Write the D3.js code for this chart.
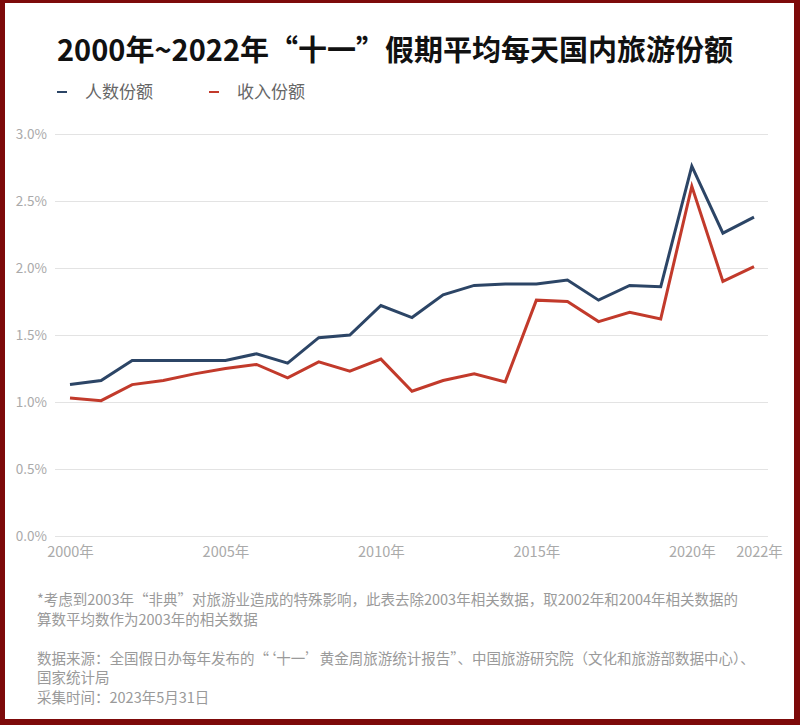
<!DOCTYPE html>
<html>
<head>
<meta charset="utf-8">
<script src="https://cdn.jsdelivr.net/npm/d3@7"></script>
<style>
  body { margin: 0; background: #fff; }
  svg { display: block; }
</style>
</head>
<body>
<div id="chart"></div>
<script>
const years = [2000, 2001, 2002, 2003, 2004, 2005, 2006, 2007, 2008, 2009, 2010,
    2011, 2012, 2013, 2014, 2015, 2016, 2017, 2018, 2019, 2020, 2021, 2022]

// 人数份额 (%)
const visitorShare = [1.13, 1.16, 1.31, 1.31, 1.31, 1.31, 1.36, 1.29, 1.48, 1.50, 1.72,
    1.63, 1.80, 1.87, 1.88, 1.88, 1.91, 1.76, 1.87, 1.86, 2.76, 2.26, 2.38]

// 收入份额 (%)
const revenueShare = [1.03, 1.01, 1.13, 1.16, 1.21, 1.25, 1.28, 1.18, 1.30, 1.23, 1.32,
    1.08, 1.16, 1.21, 1.15, 1.76, 1.75, 1.60, 1.67, 1.62, 2.61, 1.90, 2.01]

const xTicks = [2000, 2005, 2010, 2015, 2020, 2022]
const yTicks = [0, 0.5, 1.0, 1.5, 2.0, 2.5, 3.0]

const seriesNames = ["人数份额", "收入份额"]
const colors = ["#2c4566", "#c23a2b"]

const titleText = "2000年~2022年“十一”假期平均每天国内旅游份额"
const notes = [
    "*考虑到2003年“非典”对旅游业造成的特殊影响，此表去除2003年相关数据，取2002年和2004年相关数据的",
    "算数平均数作为2003年的相关数据",
    "",
    "数据来源：全国假日办每年发布的“‘十一’黄金周旅游统计报告”、中国旅游研究院（文化和旅游部数据中心）、",
    "国家统计局",
    "采集时间：2023年5月31日"
]

const width = 800
const height = 725
const font = "'Noto Sans CJK SC', 'Noto Sans', sans-serif"

const svg = d3.select("#chart").append("svg")
    .attr("width", width)
    .attr("height", height)
    .style("font-family", font)

svg.append("rect")
    .attr("width", width)
    .attr("height", height)
    .attr("fill", "#7d0a0a")

svg.append("rect")
    .attr("x", 5)
    .attr("y", 3)
    .attr("width", width - 11)
    .attr("height", height - 9)
    .attr("fill", "#fff")

// title
svg.append("text")
    .attr("x", 57)
    .attr("y", 61)
    .attr("font-size", 29)
    .attr("font-weight", 700)
    .attr("fill", "#111")
    .text(titleText)

// legend
const legend = svg.selectAll(".legend")
    .data(seriesNames)
    .enter().append("g")
    .attr("class", "legend")
    .attr("transform", (d, i) => "translate(" + (57 + i * 152) + ",92)")

legend.append("line")
    .attr("x1", 0).attr("x2", 10)
    .attr("stroke", (d, i) => colors[i])
    .attr("stroke-width", 2)

legend.append("text")
    .attr("x", 28)
    .attr("dy", "0.35em")
    .attr("font-size", 17)
    .attr("fill", "#666")
    .text(d => d)

// scales
const x = d3.scaleLinear().domain([2000, 2022]).range([70, 754])
const y = d3.scaleLinear().domain([0, 3]).range([536, 134])

// y grid + labels
const yAxis = d3.axisLeft(y)
    .tickValues(yTicks)
    .tickSize(-(768 - 55))
    .tickPadding(8)
    .tickFormat(d => d.toFixed(1) + "%")

svg.append("g")
    .attr("transform", "translate(55,0)")
    .call(yAxis)
    .call(g => g.select(".domain").remove())
    .call(g => g.selectAll(".tick line").attr("stroke", "#e3e3e3"))
    .call(g => g.selectAll(".tick text")
        .attr("fill", "#aaa")
        .attr("font-size", 13.5)
        .attr("font-family", font))

// x labels
const xAxis = d3.axisBottom(x)
    .tickValues(xTicks)
    .tickSize(0)
    .tickPadding(0)
    .tickFormat(d => d + "年")

svg.append("g")
    .attr("transform", "translate(0,547)")
    .call(xAxis)
    .call(g => g.select(".domain").remove())
    .call(g => g.selectAll(".tick text")
        .attr("fill", "#aaa")
        .attr("font-size", 14.5)
        .attr("font-family", font)
        .attr("dx", d => d === 2022 ? 5 : 0))

// lines
const line = d3.line()
    .x((d, i) => x(years[i]))
    .y(d => y(d))

svg.selectAll(".series")
    .data([visitorShare, revenueShare])
    .enter().append("path")
    .attr("class", "series")
    .attr("d", line)
    .attr("fill", "none")
    .attr("stroke", (d, i) => colors[i])
    .attr("stroke-width", 3)
    .attr("stroke-linejoin", "miter")

// notes
svg.append("g")
    .selectAll("text")
    .data(notes)
    .enter().append("text")
    .attr("x", 37)
    .attr("y", (d, i) => 605 + i * 19.5)
    .attr("font-size", 14.5)
    .attr("fill", "#9a9a9a")
    .text(d => d)
</script>
</body>
</html>
